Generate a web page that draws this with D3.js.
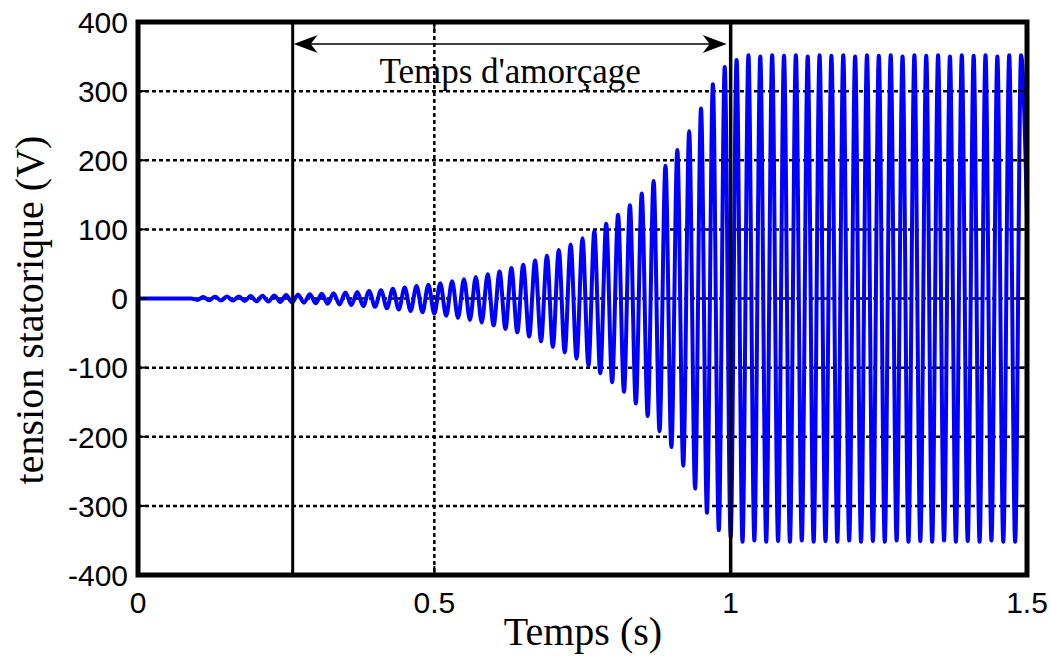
<!DOCTYPE html>
<html>
<head>
<meta charset="utf-8">
<script src="https://cdn.jsdelivr.net/npm/d3@7"></script>
<style>
  body { margin: 0; background: #fff; }
  .tick-label { font-family: "Liberation Sans", Arial, sans-serif; font-size: 30px; fill: #000; }
  .title-label { font-family: "Liberation Serif", "Times New Roman", serif; fill: #000; }
</style>
</head>
<body>
<div id="chart"></div>
<script>
// amplitude of each 20 ms cycle (V)
var cycleAmp = [
  0, 0, 0, 0, 0, 2, 2.5, 3, 3, 3.5,
  4, 4.5, 5, 5.5, 6, 7, 7.5, 8.5, 9.5, 11,
  12, 14, 16, 18, 20, 22, 25, 28, 31, 35,
  39, 44, 49, 55, 62, 70, 78, 87, 97, 108,
  121, 135, 152, 170, 192, 215, 242, 275, 310, 335,
  345, 352, 350, 352, 351, 352, 350, 352, 351, 352,
  350, 352, 351, 352, 350, 352, 351, 352, 350, 352,
  351, 352, 350, 352, 352
];
var period = 0.02;           // 50 Hz
var tailPoint = [1.5, 120];  // where the trace is cut at the right edge

var xTicks = [0, 0.5, 1, 1.5];
var yTicks = [-400, -300, -200, -100, 0, 100, 200, 300, 400];
var startLine = 0.261;       // start of "Temps d'amorçage"
var endLine = 1.0;

var W = 1051, H = 663;
var margin = { top: 22, right: 24, bottom: 88, left: 138 },
  width = W - margin.left - margin.right,
  height = H - margin.top - margin.bottom;

var x = d3.scaleLinear().domain([0, 1.5]).range([0, width]);
var y = d3.scaleLinear().domain([-400, 400]).range([height, 0]);

// extrema of each cycle: trough then peak
var pts = [];
cycleAmp.forEach(function(a, k) {
  pts.push([k * period, -a]);
  pts.push([k * period + period / 2, a]);
});
pts.push(tailPoint);

var svg = d3.select("#chart").append("svg")
  .attr("width", W)
  .attr("height", H);

svg.append("rect").attr("width", W).attr("height", H).attr("fill", "#fff");

var g = svg.append("g")
  .attr("transform", "translate(" + margin.left + "," + margin.top + ")");

// dotted grid
g.append("g").selectAll("line")
  .data(yTicks.slice(1, -1))
  .enter().append("line")
  .attr("x1", 0).attr("x2", width)
  .attr("y1", function(d) { return y(d); })
  .attr("y2", function(d) { return y(d); })
  .attr("stroke", "#000").attr("stroke-width", 2.5)
  .attr("stroke-dasharray", "4,3");

g.append("g").selectAll("line")
  .data(xTicks.slice(1, -1))
  .enter().append("line")
  .attr("y1", 0).attr("y2", height)
  .attr("x1", function(d) { return x(d); })
  .attr("x2", function(d) { return x(d); })
  .attr("stroke", "#000").attr("stroke-width", 2.5)
  .attr("stroke-dasharray", "4,3");

// signal
var line = d3.line()
  .curve(d3.curveMonotoneX)
  .x(function(d) { return x(d[0]); })
  .y(function(d) { return y(d[1]); });

g.append("path")
  .datum(pts)
  .attr("d", line)
  .attr("fill", "none")
  .attr("stroke", "#0000ff")
  .attr("stroke-width", 4)
  .attr("stroke-linejoin", "round");

// solid marker lines
g.append("line")
  .attr("x1", x(startLine)).attr("x2", x(startLine))
  .attr("y1", 0).attr("y2", height)
  .attr("stroke", "#000").attr("stroke-width", 3);
g.append("line")
  .attr("x1", x(endLine)).attr("x2", x(endLine))
  .attr("y1", 0).attr("y2", height)
  .attr("stroke", "#000").attr("stroke-width", 3.5);

// double arrow
var ay = 22, ax1 = x(startLine) + 1, ax2 = x(endLine) - 4;
g.append("line")
  .attr("x1", ax1 + 6).attr("x2", ax2 - 6)
  .attr("y1", ay).attr("y2", ay)
  .attr("stroke", "#000").attr("stroke-width", 1.5);
function head(tip, dir) {
  var L = 24, h = 9, n = 17;
  return "M" + tip + "," + ay +
    "L" + (tip + dir * L) + "," + (ay - h) +
    "L" + (tip + dir * n) + "," + ay +
    "L" + (tip + dir * L) + "," + (ay + h) + "Z";
}
g.append("path").attr("d", head(ax1, 1)).attr("fill", "#000");
g.append("path").attr("d", head(ax2, -1)).attr("fill", "#000");

g.append("text")
  .attr("class", "title-label")
  .attr("x", (ax1 + ax2) / 2)
  .attr("y", 61)
  .attr("text-anchor", "middle")
  .style("font-size", "35px")
  .text("Temps d'amorçage");

// axes (MATLAB style: inward ticks, box)
var tickLen = 9;
var axisG = g.append("g").attr("stroke", "#000").attr("stroke-width", 2);
yTicks.forEach(function(v) {
  axisG.append("line").attr("x1", 0).attr("x2", tickLen).attr("y1", y(v)).attr("y2", y(v));
  axisG.append("line").attr("x1", width).attr("x2", width - tickLen).attr("y1", y(v)).attr("y2", y(v));
});
xTicks.forEach(function(v) {
  axisG.append("line").attr("y1", height).attr("y2", height - tickLen).attr("x1", x(v)).attr("x2", x(v));
  axisG.append("line").attr("y1", 0).attr("y2", tickLen).attr("x1", x(v)).attr("x2", x(v));
});

g.append("rect")
  .attr("width", width).attr("height", height)
  .attr("fill", "none").attr("stroke", "#000").attr("stroke-width", 5);

g.append("g").selectAll("text")
  .data(yTicks)
  .enter().append("text")
  .attr("class", "tick-label")
  .attr("x", -10)
  .attr("y", function(d) { return y(d); })
  .attr("dy", "0.36em")
  .attr("text-anchor", "end")
  .text(function(d) { return d; });

g.append("g").selectAll("text")
  .data(xTicks)
  .enter().append("text")
  .attr("class", "tick-label")
  .attr("x", function(d) { return x(d); })
  .attr("y", height + 38)
  .attr("text-anchor", "middle")
  .text(function(d) { return d; });

svg.append("text")
  .attr("class", "title-label")
  .attr("x", 583)
  .attr("y", 645)
  .attr("text-anchor", "middle")
  .style("font-size", "40px")
  .text("Temps (s)");

svg.append("text")
  .attr("class", "title-label")
  .attr("transform", "translate(43,310) rotate(-90)")
  .attr("text-anchor", "middle")
  .style("font-size", "40px")
  .text("tension statorique (V)");
</script>
</body>
</html>
